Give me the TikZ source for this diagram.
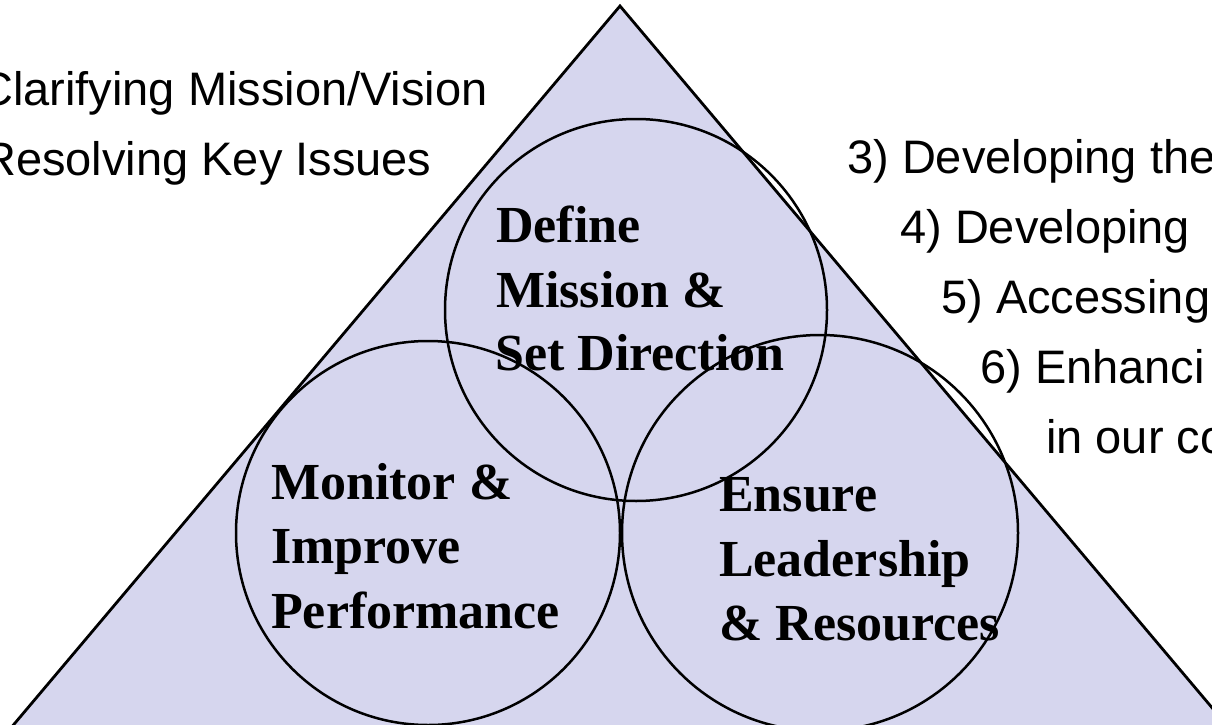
\documentclass[tikz,border=0pt]{standalone}
\usepackage{fontspec}
\setmainfont{Liberation Serif}
\newfontfamily\notefont{Liberation Sans}
\definecolor{trifill}{RGB}{214,214,238}
\tikzset{
  tri/.style={fill=trifill, draw=black, line width=2.8pt, line join=miter},
  ring/.style={circle, draw=black, line width=2.5pt, inner sep=0pt, fill=none},
  note/.style={anchor=base west, inner sep=0pt, font=\notefont\fontsize{47}{56}\selectfont},
  label/.style={anchor=base west, inner sep=0pt, font=\fontsize{52}{62}\selectfont\bfseries},
}
\begin{document}
\begin{tikzpicture}[x=1pt, y=-1pt]
\useasboundingbox (0,0) rectangle (1212,725);
\clip (0,0) rectangle (1212,725);
\fill[white] (0,0) rectangle (1212,725);
% pyramid
\draw[tri] (620,6) -- (1230,729) -- (10,729) -- cycle;
% circles
\node[ring, minimum size=382pt] (define) at (636,310) {};
\node[ring, minimum size=384pt] (monitor) at (428,533) {};
\node[ring, minimum size=396pt] (ensure) at (820,533) {};
% circle labels
\node[label] (d1) at (496,242) {Define};
\node[label] (d2) at (496,307) {Mission \&};
\node[label] (d3) at (495,370) {Set Direction};
\node[label] (m1) at (271,499) {Monitor \&};
\node[label] (m2) at (271,563) {Improve};
\node[label] (m3) at (271,628) {Performance};
\node[label] (e1) at (719,511) {Ensure};
\node[label] (e2) at (719,576) {Leadership};
\node[label] (e3) at (719,640) {\& Resources};
% side notes
\node[note] (n1) at (-21,105) {Clarifying Mission/Vision};
\node[note] (n2) at (-18,175) {Resolving Key Issues};
\node[note] (n3) at (847,173) {3) Developing the};
\node[note] (n4) at (900,243) {4) Developing};
\node[note] (n5) at (941,313) {5) Accessing};
\node[note] (n6) at (980,383) {6) Enhanci};
\node[note] (n7) at (1046,453) {in our co};
\end{tikzpicture}
\end{document}
